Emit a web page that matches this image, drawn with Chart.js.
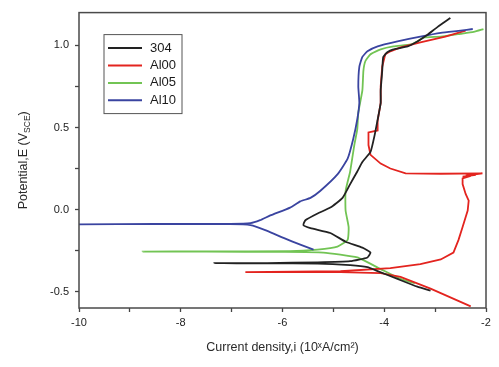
<!DOCTYPE html>
<html>
<head>
<meta charset="utf-8">
<script src="https://cdn.jsdelivr.net/npm/chart.js@4/dist/chart.umd.min.js"></script>
<style>
  body { margin: 0; background: #fff; }
  #wrap { width: 499px; height: 367px; position: relative; }
</style>
</head>
<body>
<div id="wrap"><canvas id="polChart"></canvas></div>
<script>
// series labels + colours
const seriesNames = ['304', 'Al00', 'Al05', 'Al10'];
const seriesColors = ['#222222', '#e3241f', '#72c454', '#3a44a0'];

// 304 (log i, E)
const s304X = [-3.09, -3.35, -3.74, -4.13, -4.33, -4.67, -5.31, -6.3, -7.34, -6.3, -5.31, -4.67, -4.33, -4.27, -4.43, -4.76, -5.06, -5.45, -5.59, -5.55, -5.31, -5.06, -4.82, -4.67, -4.53, -4.43, -4.27, -4.19, -4.13, -4.07, -4.07, -4.04, -4.02, -3.94, -3.82, -3.54, -3.35, -3.15, -2.95, -2.70];
const s304Y = [-0.494, -0.470, -0.423, -0.375, -0.351, -0.339, -0.329, -0.328, -0.327, -0.326, -0.322, -0.315, -0.292, -0.262, -0.232, -0.196, -0.143, -0.113, -0.095, -0.065, -0.024, 0.012, 0.071, 0.155, 0.232, 0.290, 0.351, 0.452, 0.548, 0.649, 0.726, 0.845, 0.929, 0.958, 0.976, 0.994, 1.024, 1.065, 1.113, 1.167];

// Al00
const s00X = [-2.30, -3.09, -3.68, -4.07, -4.86, -6.73, -4.86, -3.88, -3.29, -2.89, -2.64, -2.54, -2.46, -2.36, -2.34, -2.40, -2.46, -2.46, -2.30, -2.46, -2.20, -2.40, -2.07, -2.89, -3.58, -3.88, -4.07, -4.27, -4.31, -4.31, -4.13, -4.13, -4.07, -4.07, -4.04, -3.98, -3.88, -3.68, -3.29, -2.80, -2.40];
const s00Y = [-0.59, -0.482, -0.411, -0.387, -0.381, -0.381, -0.376, -0.357, -0.333, -0.304, -0.262, -0.185, -0.107, -0.006, 0.054, 0.095, 0.155, 0.19, 0.205, 0.20, 0.212, 0.206, 0.22, 0.218, 0.22, 0.25, 0.28, 0.333, 0.393, 0.47, 0.482, 0.54, 0.65, 0.75, 0.87, 0.946, 0.964, 0.988, 1.018, 1.054, 1.09];

// Al05
const s05X = [-3.40, -3.68, -4.07, -4.53, -5.20, -5.98, -7.5, -8.75, -7.5, -5.85, -5.31, -4.92, -4.72, -4.70, -4.76, -4.76, -4.67, -4.59, -4.53, -4.51, -4.43, -4.41, -4.37, -4.27, -4.07, -3.82, -3.48, -3.35, -3.23, -2.89, -2.50, -2.24, -2.05];
const s05Y = [-0.45, -0.423, -0.363, -0.292, -0.262, -0.258, -0.257, -0.256, -0.255, -0.254, -0.244, -0.226, -0.185, -0.107, -0.006, 0.113, 0.232, 0.39, 0.49, 0.59, 0.726, 0.845, 0.905, 0.946, 0.976, 0.994, 1.006, 1.024, 1.048, 1.054, 1.071, 1.083, 1.10];

// Al10
const s10X = [-5.39, -5.65, -5.98, -6.30, -6.63, -7.03, -8.5, -10, -8.5, -7.03, -6.63, -6.44, -6.24, -5.85, -5.65, -5.45, -5.26, -4.92, -4.72, -4.61, -4.53, -4.49, -4.51, -4.49, -4.43, -4.33, -4.13, -3.74, -3.29, -2.89, -2.50, -2.26];
const s10Y = [-0.244, -0.214, -0.173, -0.13, -0.095, -0.089, -0.089, -0.09, -0.088, -0.087, -0.083, -0.065, -0.036, 0.012, 0.05, 0.071, 0.113, 0.214, 0.31, 0.43, 0.55, 0.65, 0.75, 0.87, 0.93, 0.964, 0.994, 1.024, 1.054, 1.077, 1.09, 1.10];

// axis ticks
const xTicks = [-10, -9, -8, -7, -6, -5, -4, -3, -2];
const xLabelTicks = [-10, -8, -6, -4, -2];
const yTicks = [-0.5, -0.25, 0, 0.25, 0.5, 0.75, 1.0];
const yLabelTicks = [-0.5, 0, 0.5, 1.0];

const toPts = (xs, ys) => xs.map((x, i) => ({ x: x, y: ys[i] }));
const allX = [s304X, s00X, s05X, s10X];
const allY = [s304Y, s00Y, s05Y, s10Y];
const drawOrder = [1, 3, 4, 2];

const datasets = seriesNames.map((name, i) => ({
    label: name,
    data: toPts(allX[i], allY[i]),
    borderColor: seriesColors[i],
    backgroundColor: seriesColors[i],
    borderWidth: 1.8,
    pointRadius: 0,
    showLine: true,
    tension: i === 1 ? 0 : 0.15,
    order: drawOrder[i]
}));

const frameAndText = {
    id: 'frameAndText',
    afterDraw(chart) {
        const ctx = chart.ctx;
        const a = chart.chartArea;
        ctx.save();
        // plot frame
        ctx.strokeStyle = '#4a4a4a';
        ctx.lineWidth = 1.5;
        ctx.strokeRect(a.left, a.top, a.right - a.left, a.bottom - a.top);

        // legend box
        const lx = a.left + 25, ly = a.top + 22, lw = 78, lh = 79;
        ctx.lineWidth = 1;
        ctx.strokeStyle = '#555';
        ctx.strokeRect(lx, ly, lw, lh);
        ctx.font = '13px "Liberation Sans", Arial, sans-serif';
        ctx.textBaseline = 'middle';
        seriesNames.forEach((name, i) => {
            const yy = ly + 13.5 + i * 17.4;
            ctx.strokeStyle = seriesColors[i];
            ctx.lineWidth = 2;
            ctx.beginPath();
            ctx.moveTo(lx + 4, yy);
            ctx.lineTo(lx + 38, yy);
            ctx.stroke();
            ctx.fillStyle = '#1a1a1a';
            ctx.fillText(name, lx + 46, yy);
        });

        // x title
        const cx = (a.left + a.right) / 2;
        ctx.fillStyle = '#2a2a2a';
        ctx.textBaseline = 'alphabetic';
        ctx.textAlign = 'center';
        ctx.font = '12.5px "Liberation Sans", Arial, sans-serif';
        ctx.fillText('Current density,i (10ˣA/cm²)', cx, 351);

        // y title with subscript
        const cy = (a.top + a.bottom) / 2;
        ctx.translate(27, cy);
        ctx.rotate(-Math.PI / 2);
        const big = '12.5px "Liberation Sans", Arial, sans-serif';
        const small = '8.5px "Liberation Sans", Arial, sans-serif';
        const p1 = 'Potential,E (V', p2 = 'SCE', p3 = ')';
        ctx.font = big; const w1 = ctx.measureText(p1).width; const w3 = ctx.measureText(p3).width;
        ctx.font = small; const w2 = ctx.measureText(p2).width;
        let sx = -(w1 + w2 + w3) / 2;
        ctx.textAlign = 'left';
        ctx.font = big; ctx.fillText(p1, sx, 0); sx += w1;
        ctx.font = small; ctx.fillText(p2, sx, 3); sx += w2;
        ctx.font = big; ctx.fillText(p3, sx, 0);
        ctx.restore();
    }
};

new Chart(document.getElementById('polChart').getContext('2d'), {
    type: 'scatter',
    data: { datasets: datasets },
    options: {
        responsive: true,
        maintainAspectRatio: false,
        animation: false,
        layout: { padding: { left: 0, right: 13, top: 7, bottom: 0 } },
        plugins: { legend: { display: false }, tooltip: { enabled: false } },
        scales: {
            x: {
                type: 'linear',
                min: -10,
                max: -2,
                afterBuildTicks: s => { s.ticks = xTicks.map(v => ({ value: v })); },
                afterFit: s => { s.height = 59; },
                border: { display: false },
                grid: { drawOnChartArea: false, drawTicks: true, tickLength: 4, tickColor: '#444', tickWidth: 1.3 },
                ticks: {
                    padding: 4,
                    color: '#222',
                    font: { family: '"Liberation Sans", Arial, sans-serif', size: 11 },
                    maxRotation: 0,
                    autoSkip: false,
                    callback: v => xLabelTicks.includes(v) ? String(v) : ''
                }
            },
            y: {
                type: 'linear',
                min: -0.6,
                max: 1.2,
                afterBuildTicks: s => { s.ticks = yTicks.map(v => ({ value: v })); },
                afterFit: s => { s.width = 79; },
                border: { display: false },
                grid: { drawOnChartArea: false, drawTicks: true, tickLength: 4, tickColor: '#444', tickWidth: 1.3 },
                ticks: {
                    padding: 6,
                    color: '#222',
                    font: { family: '"Liberation Sans", Arial, sans-serif', size: 11 },
                    autoSkip: false,
                    callback: v => yLabelTicks.includes(v) ? v.toFixed(1) : ''
                }
            }
        }
    },
    plugins: [frameAndText]
});
</script>
</body>
</html>
